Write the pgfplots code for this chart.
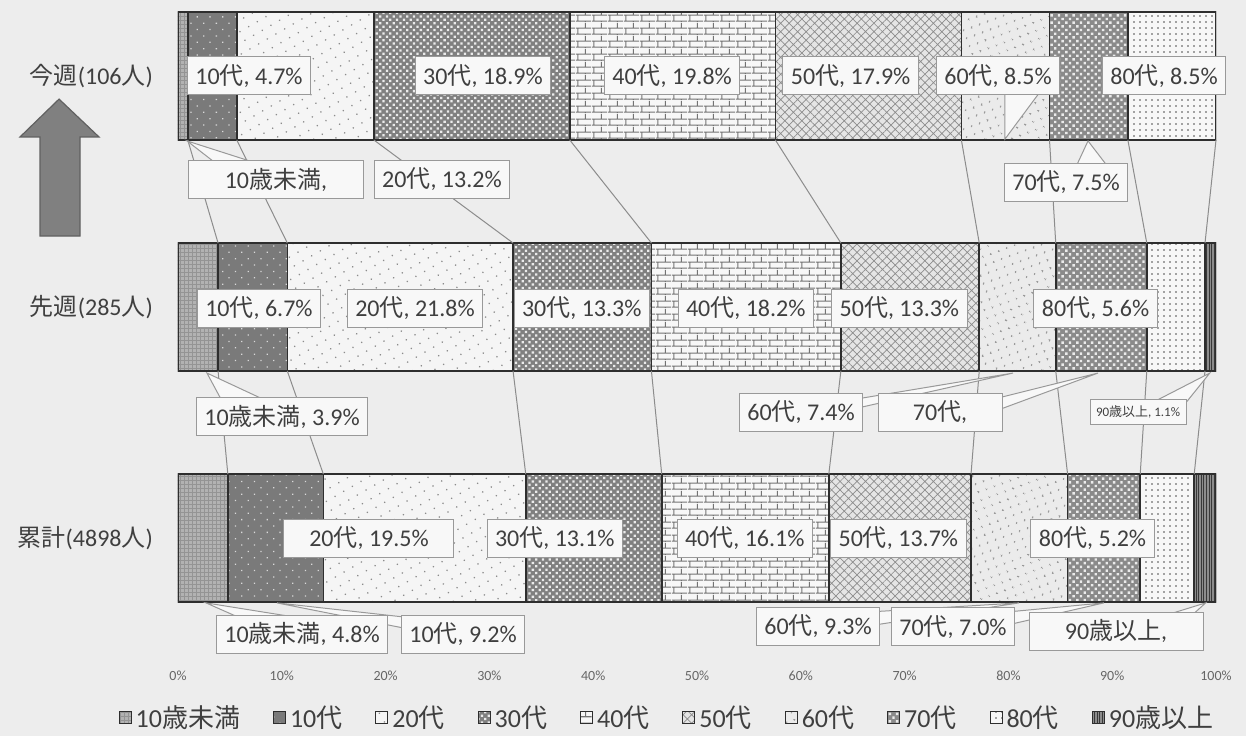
\documentclass[border=0pt]{standalone}
\usepackage{fontspec}
\setmainfont{Carlito}
\newfontfamily\jp{Noto Sans CJK JP}
\usepackage{pgfplots}
\pgfplotsset{compat=1.18}
\usetikzlibrary{patterns,patterns.meta}
\newcommand{\J}[1]{{\jp #1}}
\definecolor{bgc}{HTML}{EDEDED}
\definecolor{boxc}{HTML}{F8F8F8}
\definecolor{txt}{HTML}{3F3F3F}
\definecolor{edge}{HTML}{2E2E2E}
\pgfdeclarepatternformonly{mybricks}{\pgfpointorigin}{\pgfqpoint{8pt}{6.5pt}}{\pgfqpoint{8pt}{6.5pt}}{%
 \pgfsetlinewidth{0.55pt}%
 \pgfpathmoveto{\pgfqpoint{0pt}{0.5pt}}\pgfpathlineto{\pgfqpoint{8pt}{0.5pt}}%
 \pgfpathmoveto{\pgfqpoint{0pt}{3.75pt}}\pgfpathlineto{\pgfqpoint{8pt}{3.75pt}}%
 \pgfpathmoveto{\pgfqpoint{1pt}{0.5pt}}\pgfpathlineto{\pgfqpoint{1pt}{3.75pt}}%
 \pgfpathmoveto{\pgfqpoint{5pt}{3.75pt}}\pgfpathlineto{\pgfqpoint{5pt}{6.5pt}}%
 \pgfpathmoveto{\pgfqpoint{5pt}{0pt}}\pgfpathlineto{\pgfqpoint{5pt}{0.5pt}}%
 \pgfusepath{stroke}}
\tikzset{
 lbl/.style={fill=boxc, draw=black!40, line width=0.5pt, text=txt, font=\fontsize{12}{14}\selectfont, inner xsep=4pt, inner ysep=0pt, minimum height=19pt},
 co/.style={fill=boxc, draw=black!40, line width=0.5pt},
 sl/.style={draw=black!45, line width=0.5pt},
}
\pgfplotsset{
 bb/.style={draw=edge, line width=0.8pt},
}
\begin{document}
\begin{tikzpicture}
\useasboundingbox (-89pt,-36pt) rectangle (534pt,332pt);
\fill[bgc] (-89pt,-36pt) rectangle (534pt,332pt);
\begin{axis}[
 at={(0,0)}, anchor=south west,
 scale only axis, width=519pt, height=332pt,
 xmin=0, xmax=100, ymin=-0.5455, ymax=2.329,
 xbar stacked, bar width=64pt,
 axis line style={draw=none}, major tick style={draw=none},
 xtick={0,10,...,100}, xticklabel={\pgfmathprintnumber{\tick}\%},
 xticklabel style={font=\fontsize{7}{8}\selectfont, text=black!60},
 /pgf/number format/assume math mode=true,
 ytick={0,1,2},
 yticklabels={\J{累計}(4898\J{人}), \J{先週}(285\J{人}), \J{今週}(106\J{人})},
 yticklabel style={font=\fontsize{12}{14}\selectfont, text=txt, xshift=-9pt},
 legend columns=10,
 legend style={at={(0.472,-0.0813)}, anchor=center, draw=none, fill=none,
   font=\fontsize{13}{15}\selectfont, text=txt,
   /tikz/every even column/.append style={column sep=14.5pt}},
 legend image code/.code={\draw[#1, line width=0.5pt] (0pt,-3pt) rectangle (6pt,3pt);},
]
\addplot[bb, fill=black!30, postaction={pattern={Hatch[angle=0,distance=2pt,line width=0.3pt]}, pattern color=black!42}] coordinates {(4.8,0) (3.86,1) (0.94,2)};
\addplot[bb, fill=black!52, postaction={pattern={Dots[distance=4.5pt,radius=0.45pt,angle=45]}, pattern color=white!85!black}] coordinates {(9.2,0) (6.67,1) (4.72,2)};
\addplot[bb, fill=white!96!black, postaction={pattern={Dots[distance=5pt,radius=0.45pt,angle=30]}, pattern color=black!45}] coordinates {(19.5,0) (21.75,1) (13.21,2)};
\addplot[bb, fill=black!50, postaction={pattern={Dots[distance=2.4pt,radius=0.8pt,angle=45]}, pattern color=white!92!black}] coordinates {(13.1,0) (13.33,1) (18.87,2)};
\addplot[bb, fill=white!97!black, postaction={pattern=mybricks, pattern color=black!55}] coordinates {(16.1,0) (18.25,1) (19.81,2)};
\addplot[bb, fill=black!10, postaction={pattern={Hatch[distance=3pt,angle=45,line width=0.35pt]}, pattern color=black!45}] coordinates {(13.7,0) (13.33,1) (17.92,2)};
\addplot[bb, fill=black!8, postaction={pattern={Dots[distance=4pt,radius=0.55pt,angle=20]}, pattern color=black!40}] coordinates {(9.3,0) (7.37,1) (8.49,2)};
\addplot[bb, fill=black!46, postaction={pattern={Dots[distance=2.6pt,radius=0.85pt,angle=45]}, pattern color=white!92!black}] coordinates {(7.0,0) (8.77,1) (7.55,2)};
\addplot[bb, fill=white!97!black, postaction={pattern={Dots[distance=3pt,radius=0.45pt,angle=0]}, pattern color=black!70}] coordinates {(5.2,0) (5.61,1) (8.49,2)};
\addplot[bb, fill=black!45, postaction={pattern={Lines[distance=1.3pt,angle=90,line width=0.5pt]}, pattern color=black!78}] coordinates {(2.1,0) (1.05,1) (0,2)};
\legend{10\J{歳未満}, 10\J{代}, 20\J{代}, 30\J{代}, 40\J{代}, 50\J{代}, 60\J{代}, 70\J{代}, 80\J{代}, 90\J{歳以上}}
\end{axis}
\begin{axis}[
 at={(0,0)}, anchor=south west,
 scale only axis, width=519pt, height=332pt,
 xmin=0, xmax=100, ymin=-0.5455, ymax=2.329,
 hide axis, clip=false,
]
% series lines between bars
\addplot[sl] coordinates {(0.94,1.723) (3.86,1.277)};
\addplot[sl] coordinates {(5.66,1.723) (10.53,1.277)};
\addplot[sl] coordinates {(18.87,1.723) (32.28,1.277)};
\addplot[sl] coordinates {(37.74,1.723) (45.61,1.277)};
\addplot[sl] coordinates {(57.55,1.723) (63.86,1.277)};
\addplot[sl] coordinates {(75.47,1.723) (77.19,1.277)};
\addplot[sl] coordinates {(83.96,1.723) (84.56,1.277)};
\addplot[sl] coordinates {(91.51,1.723) (93.33,1.277)};
\addplot[sl] coordinates {(100,1.723) (98.94,1.277)};
\addplot[sl] coordinates {(3.86,0.723) (4.8,0.277)};
\addplot[sl] coordinates {(10.53,0.723) (14.0,0.277)};
\addplot[sl] coordinates {(32.28,0.723) (33.5,0.277)};
\addplot[sl] coordinates {(45.61,0.723) (46.6,0.277)};
\addplot[sl] coordinates {(63.86,0.723) (62.7,0.277)};
\addplot[sl] coordinates {(77.19,0.723) (76.4,0.277)};
\addplot[sl] coordinates {(84.56,0.723) (85.7,0.277)};
\addplot[sl] coordinates {(93.33,0.723) (92.7,0.277)};
\addplot[sl] coordinates {(98.94,0.723) (97.9,0.277)};
% callout wedges
\filldraw[co] (axis cs:3.85,1.615) -- (axis cs:0.87,1.719) -- (axis cs:8.09,1.615);
\filldraw[co] (axis cs:86.5,1.606) -- (axis cs:87.67,1.719) -- (axis cs:89.6,1.606);
\filldraw[co] (axis cs:79.67,1.931) -- (axis cs:79.67,1.727) -- (axis cs:83.04,1.931);
\filldraw[co] (axis cs:4.24,0.593) -- (axis cs:2.79,0.714) -- (axis cs:8.57,0.593);
\filldraw[co] (axis cs:64.74,0.597) -- (axis cs:80.44,0.714) -- (axis cs:65.9,0.567);
\filldraw[co] (axis cs:78.2,0.597) -- (axis cs:88.63,0.714) -- (axis cs:79.0,0.554);
\filldraw[co] (axis cs:93.6,0.580) -- (axis cs:99.4,0.714) -- (axis cs:97.0,0.580);
\filldraw[co] (axis cs:5.97,-0.346) -- (axis cs:2.7,-0.281) -- (axis cs:11.75,-0.346);
\filldraw[co] (axis cs:21.77,-0.342) -- (axis cs:9.54,-0.281) -- (axis cs:21.77,-0.390);
\filldraw[co] (axis cs:66.67,-0.320) -- (axis cs:81.02,-0.281) -- (axis cs:67.05,-0.377);
\filldraw[co] (axis cs:79.96,-0.320) -- (axis cs:89.2,-0.281) -- (axis cs:80.35,-0.372);
\filldraw[co] (axis cs:94.6,-0.342) -- (axis cs:99.0,-0.281) -- (axis cs:97.5,-0.342);
% labels: 今週
\node[lbl] at (axis cs:6.84,2) {10\J{代}, 4.7\%};
\node[lbl] at (axis cs:29.38,2) {30\J{代}, 18.9\%};
\node[lbl] at (axis cs:47.6,2) {40\J{代}, 19.8\%};
\node[lbl] at (axis cs:64.8,2) {50\J{代}, 17.9\%};
\node[lbl] at (axis cs:79.0,2) {60\J{代}, 8.5\%};
\node[lbl] at (axis cs:95.0,2) {80\J{代}, 8.5\%};
\node[lbl] at (axis cs:85.55,1.541) {70\J{代}, 7.5\%};
\node[lbl, minimum width=87.5pt] at (axis cs:9.44,1.550) {10\J{歳未満},};
\node[lbl] at (axis cs:25.43,1.554) {20\J{代}, 13.2\%};
% labels: 先週
\node[lbl] at (axis cs:7.8,0.995) {10\J{代}, 6.7\%};
\node[lbl] at (axis cs:22.83,0.995) {20\J{代}, 21.8\%};
\node[lbl] at (axis cs:38.9,0.995) {30\J{代}, 13.3\%};
\node[lbl] at (axis cs:54.7,0.995) {40\J{代}, 18.2\%};
\node[lbl] at (axis cs:69.5,0.995) {50\J{代}, 13.3\%};
\node[lbl] at (axis cs:88.4,0.995) {80\J{代}, 5.6\%};
\node[lbl] at (axis cs:10.02,0.524) {10\J{歳未満}, 3.9\%};
\node[lbl] at (axis cs:60.02,0.545) {60\J{代}, 7.4\%};
\node[lbl, minimum width=62pt] at (axis cs:73.41,0.545) {70\J{代},};
\node[lbl, font=\fontsize{6.5}{8}\selectfont, minimum height=12.5pt, inner xsep=3pt] at (axis cs:92.49,0.545) {90\J{歳以上}, 1.1\%};
% labels: 累計
\node[lbl, minimum width=85pt] at (axis cs:18.4,0) {20\J{代}, 19.5\%};
\node[lbl] at (axis cs:36.3,0) {30\J{代}, 13.1\%};
\node[lbl] at (axis cs:54.6,0) {40\J{代}, 16.1\%};
\node[lbl] at (axis cs:69.4,0) {50\J{代}, 13.7\%};
\node[lbl] at (axis cs:88.1,0) {80\J{代}, 5.2\%};
\node[lbl] at (axis cs:11.95,-0.416) {10\J{歳未満}, 4.8\%};
\node[lbl] at (axis cs:27.46,-0.416) {10\J{代}, 9.2\%};
\node[lbl] at (axis cs:61.66,-0.381) {60\J{代}, 9.3\%};
\node[lbl] at (axis cs:74.66,-0.385) {70\J{代}, 7.0\%};
\node[lbl, minimum width=87pt] at (axis cs:90.37,-0.403) {90\J{歳以上},};
% arrow
\filldraw[fill=black!50, draw=black!62, line width=0.6pt]
 (axis cs:-13.29,1.307) -- (axis cs:-13.29,1.736) -- (axis cs:-15.22,1.736) -- (axis cs:-11.46,1.900)
 -- (axis cs:-7.61,1.736) -- (axis cs:-9.44,1.736) -- (axis cs:-9.44,1.307) -- cycle;
\end{axis}
\end{tikzpicture}
\end{document}
